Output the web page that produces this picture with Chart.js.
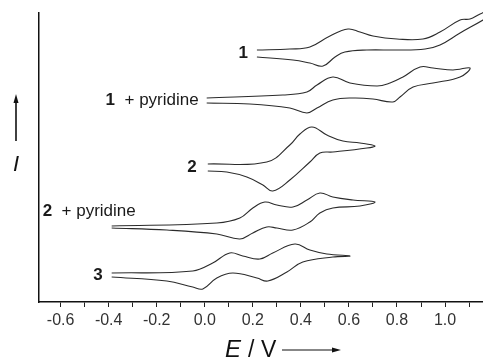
<!DOCTYPE html>
<html>
<head>
<meta charset="utf-8">
<script src="https://cdn.jsdelivr.net/npm/chart.js@4"></script>
<style>
  html, body { margin: 0; padding: 0; background: #fff; }
  #wrap { width: 483px; height: 358px; position: relative; }
</style>
</head>
<body>
<div id="wrap"><canvas id="cv"></canvas></div>
<script>
// potentials (V) and currents (arb. units), forward scan then return scan
const e1 = [0.217, 0.354, 0.4375, 0.521, 0.596, 0.646, 0.70, 0.80, 0.908, 0.979, 1.0625, 1.104, 1.146, 1.19,
            1.19, 1.158, 1.0625, 0.979, 0.917, 0.80, 0.675, 0.583, 0.542, 0.492, 0.4375, 0.367, 0.217];
const i1 = [252, 253, 255, 266, 273, 270, 266, 263, 263, 270, 282, 283, 288, 292,
            287, 282, 269, 257, 253, 252, 252, 250, 245, 236, 239, 242, 245];

const e1p = [0.008, 0.325, 0.425, 0.467, 0.533, 0.604, 0.717, 0.771, 0.825, 0.896, 0.95, 1.033, 1.104,
             1.0625, 0.95, 0.867, 0.8125, 0.783, 0.70, 0.617, 0.533, 0.467, 0.425, 0.354, 0.1875, 0.008];
const i1p = [204, 207, 210, 217, 225, 219, 216, 219, 225, 235, 234, 232, 234,
             225, 219, 215, 205, 200, 203, 204, 202, 194, 189, 194, 198, 199];

const e2 = [0.0125, 0.258, 0.354, 0.396, 0.446, 0.508, 0.575, 0.646, 0.708,
            0.675, 0.533, 0.479, 0.4375, 0.354, 0.283, 0.242, 0.175, 0.0917, 0.0125];
const i2 = [138, 140, 157, 168, 175, 167, 161, 159, 156,
            154, 150, 149, 140, 122, 111, 117, 125, 130, 131];

const e2p = [-0.3875, 0.05, 0.146, 0.2, 0.25, 0.3, 0.367, 0.425, 0.479, 0.533, 0.617, 0.708,
             0.646, 0.533, 0.479, 0.4375, 0.367, 0.3, 0.258, 0.2, 0.146, 0.05, -0.158, -0.3875];
const i2p = [76, 79, 84, 94, 100, 97, 95, 102, 109, 105, 102, 100,
             96, 94, 89, 80, 72, 74, 75, 69, 63, 68, 72, 74];

const e3 = [-0.3875, -0.05, 0.033, 0.104, 0.158, 0.229, 0.283, 0.375, 0.4375, 0.508, 0.604,
            0.533, 0.408, 0.342, 0.2625, 0.217, 0.117, 0.05, -0.008, -0.05, -0.158, -0.3875];
const i3 = [29, 31, 39, 49, 46, 43, 49, 58, 52, 48, 46,
            45, 40, 30, 21, 24, 29, 24, 13, 15, 21, 25];

const curveNames = ['1', '1|+ pyridine', '2', '2|+ pyridine', '3'];
const tickValues = [-0.6, -0.5, -0.4, -0.3, -0.2, -0.1, 0.0, 0.1, 0.2, 0.3, 0.4, 0.5, 0.6, 0.7, 0.8, 0.9, 1.0, 1.1];

function pts(es, is) {
  return es.map((e, k) => ({ x: e, y: is[k] }));
}

const curves = [[e1, i1], [e1p, i1p], [e2, i2], [e2p, i2p], [e3, i3]];

const datasets = curves.map((c, k) => ({
  label: curveNames[k],
  data: pts(c[0], c[1]),
  showLine: true,
  borderColor: '#2b2b2b',
  borderWidth: 1.1,
  pointRadius: 0,
  tension: 0.4,
  clip: false
}));

// label placement next to the start of each curve (pixel offsets)
const labelPos = [
  { dx: -9, dy: 0, align: 'right' },
  { dx: -8, dy: 0, align: 'right' },
  { dx: -11, dy: 0, align: 'right' },
  { dx: -69, dy: -16, align: 'left' },
  { dx: -9, dy: 0, align: 'right' }
];

const FONT = '"Liberation Sans", Arial, sans-serif';

const decor = {
  id: 'decor',
  afterDatasetsDraw(chart) {
    const c = chart.ctx;
    const xs = chart.scales.x, ys = chart.scales.y;
    c.save();
    c.fillStyle = '#1a1a1a';
    c.textBaseline = 'middle';
    curves.forEach((cv, k) => {
      const n = cv[0].length;
      const px = xs.getPixelForValue(cv[0][0]);
      const py = (ys.getPixelForValue(cv[1][0]) + ys.getPixelForValue(cv[1][n - 1])) / 2;
      const parts = curveNames[k].split('|');
      const p = labelPos[k];
      c.font = 'bold 17px ' + FONT;
      const w0 = c.measureText(parts[0]).width;
      let w1 = 0;
      const rest = parts[1] ? '  ' + parts[1] : '';
      c.font = '17px ' + FONT;
      if (rest) w1 = c.measureText(rest).width;
      let x0 = p.align === 'right' ? px + p.dx - w0 - w1 : px + p.dx;
      const y0 = py + p.dy;
      c.textAlign = 'left';
      c.font = 'bold 17px ' + FONT;
      c.fillText(parts[0], x0, y0);
      if (rest) {
        c.font = '17px ' + FONT;
        c.fillText(rest, x0 + w0, y0);
      }
    });

    // y axis label with arrow
    c.strokeStyle = '#111';
    c.fillStyle = '#111';
    c.lineWidth = 1.6;
    c.beginPath();
    c.moveTo(16, 141);
    c.lineTo(16, 101);
    c.stroke();
    c.beginPath();
    c.moveTo(16, 94);
    c.lineTo(13.5, 103);
    c.lineTo(18.5, 103);
    c.closePath();
    c.fill();
    c.font = 'italic 22px ' + FONT;
    c.textAlign = 'center';
    c.textBaseline = 'alphabetic';
    c.fillText('I', 16, 171);

    // x axis title with arrow
    c.textAlign = 'left';
    c.font = 'italic 24px ' + FONT;
    c.fillText('E', 225, 357);
    c.font = '23px ' + FONT;
    c.fillText('/', 248, 357);
    c.fillText('V', 261, 357);
    c.lineWidth = 1.2;
    c.beginPath();
    c.moveTo(282, 350);
    c.lineTo(334, 350);
    c.stroke();
    c.beginPath();
    c.moveTo(341, 350);
    c.lineTo(332, 347.5);
    c.lineTo(332, 352.5);
    c.closePath();
    c.fill();
    c.restore();
  }
};

new Chart(document.getElementById('cv'), {
  type: 'scatter',
  data: { datasets: datasets },
  options: {
    responsive: true,
    maintainAspectRatio: false,
    animation: false,
    layout: { padding: { left: 0, right: 0, top: 13, bottom: 0 } },
    plugins: { legend: { display: false }, tooltip: { enabled: false } },
    scales: {
      x: {
        type: 'linear',
        min: -0.69,
        max: 1.158,
        afterBuildTicks: (axis) => { axis.ticks = tickValues.map(v => ({ value: v })); },
        afterFit: (axis) => { axis.height = 56; },
        ticks: {
          autoSkip: false,
          maxRotation: 0,
          padding: 4,
          color: '#333',
          font: { family: FONT, size: 16 },
          callback: (v) => (Math.round(v * 10) % 2 === 0 ? v.toFixed(1) : '')
        },
        grid: { drawOnChartArea: false, drawTicks: true, tickLength: 5, color: '#222', lineWidth: 1 },
        border: { color: '#111', width: 1.5 }
      },
      y: {
        min: 0,
        max: 289,
        afterFit: (axis) => { axis.width = 39; },
        ticks: { display: false },
        grid: { display: false },
        border: { color: '#111', width: 1.5 }
      }
    }
  },
  plugins: [decor]
});
</script>
</body>
</html>
